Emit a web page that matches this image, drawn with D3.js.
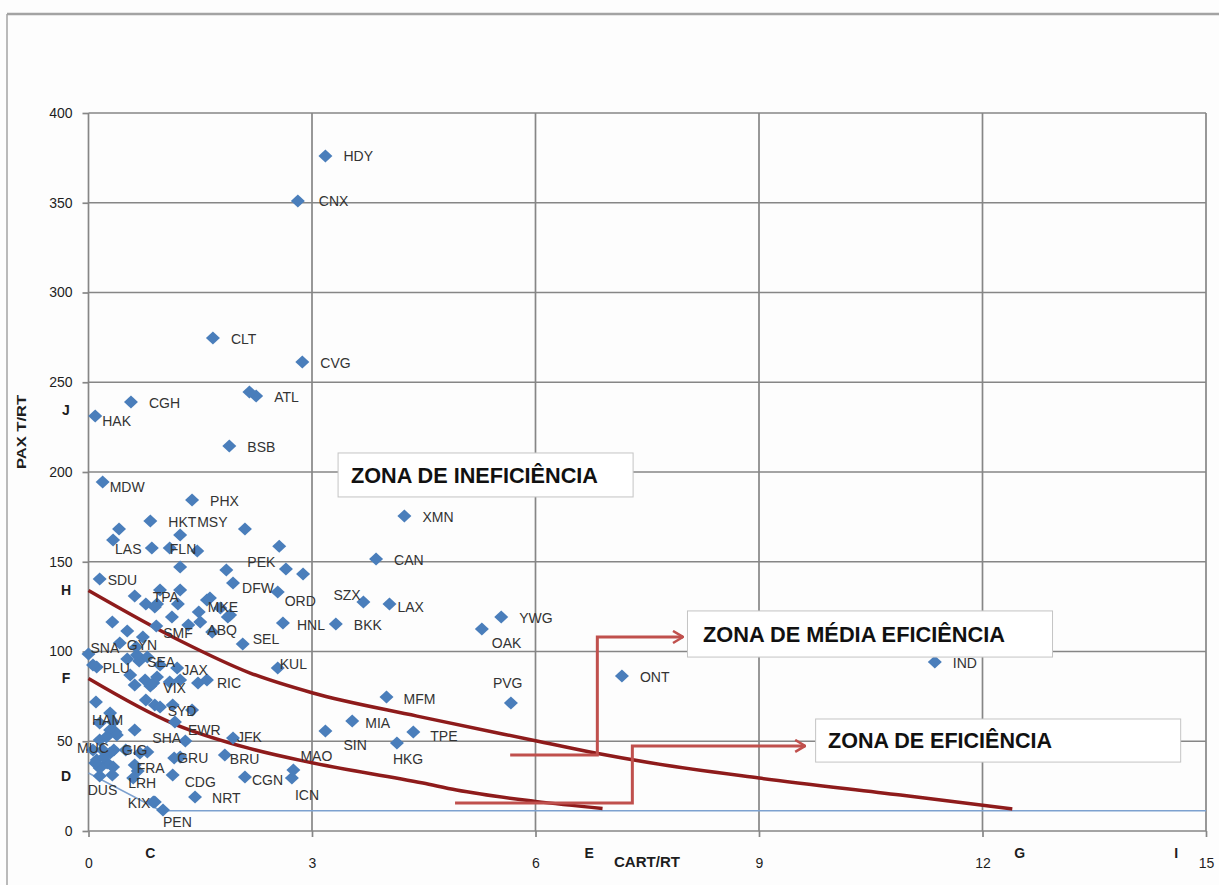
<!DOCTYPE html>
<html lang="pt">
<head>
<meta charset="utf-8">
<title>PAX T/RT x CART/RT</title>
<style>
  body { margin: 0; background: #ffffff; }
  svg { display: block; background: #fdfdfd; font-family: "Liberation Sans", Arial, sans-serif; }
  .grid line { stroke: #868686; stroke-width: 1.7; }
  .axis path { display: none; }
  .axis line { stroke: #868686; stroke-width: 1.7; }
  .axis text { font-size: 14px; fill: #1e1e1e; }
  .mark { font-size: 14px; fill: #1e1e1e; font-weight: bold; }
  .lbl { font-size: 14px; fill: #333; }
  .zone-box { fill: #ffffff; stroke: #c4c4c4; stroke-width: 1; }
  .zone-text { font-family: "Liberation Sans Narrow", "Liberation Sans", Arial, sans-serif; font-weight: bold; font-size: 22px; fill: #111; }
</style>
</head>
<body>
<script src="https://cdnjs.cloudflare.com/ajax/libs/d3/7.8.5/d3.min.js"></script>
<script>
// airports ("" = sem rótulo), CART/RT and PAX T/RT
var airports = ["HDY","CNX","CLT","CVG","ATL","","BSB","CGH","HAK","MDW",
  "PHX","HKT","MSY","LAS","FLN","SDU","PEK","DFW","ORD","TPA",
  "MKE","ABQ","SMF","SEL","HNL","BKK","SZX","LAX","CAN","XMN",
  "OAK","YWG","KUL","SNA","GYN","PLU","SEA","JAX","VIX","RIC",
  "SYD","HAM","SHA","EWR","JFK","BRU","GRU","GIG","MUC","FRA",
  "LRH","CDG","NRT","CGN","ICN","MAO","SIN","MIA","MFM","TPE",
  "HKG","PVG","ONT","IND","DUS","KIX","PEN",
  "","","","","","","","","","","","","","","","","","","","","","","","","",
  "","","","","","","","","","","","","","","","","","","","",
  "","","","","","","","","","","","","","","","","","","","","",""];
var cartRt = [3.18,2.81,1.67,2.87,2.25,2.16,1.89,0.57,0.09,0.19,
  1.39,0.83,1.23,0.33,0.85,0.15,1.85,1.94,2.54,0.62,
  1.48,1.34,0.91,2.07,2.61,3.32,3.69,4.04,3.86,4.24,
  5.28,5.54,2.54,0.00,0.42,0.11,0.68,1.19,0.83,1.59,
  1.13,0.10,1.30,1.16,1.94,1.83,1.23,0.34,0.06,0.66,
  0.60,1.13,1.43,2.10,2.73,2.75,3.18,3.54,4.00,4.36,
  4.14,5.67,7.16,11.36,0.15,0.89,1.00,
  0.41,1.09,1.46,2.10,2.56,1.23,2.65,2.88,0.77,0.96,1.23,0.92,1.20,0.89,1.77,1.87,1.63,1.90,1.50,1.12,0.32,0.52,0.73,1.66,1.59,
  0.06,0.52,0.65,0.79,0.96,0.56,0.62,0.76,0.87,0.92,1.09,1.23,0.77,0.89,1.39,0.29,0.33,0.36,0.62,0.15,
  0.29,0.38,0.15,0.19,0.29,0.11,0.25,0.33,0.15,0.32,0.21,0.09,0.79,0.69,0.62,0.87,1.15,0.24,0.50,1.47,0.96,0.64];
var paxRt = [376.0,351.0,274.7,261.3,242.3,244.6,214.5,239.0,231.2,194.4,
  184.4,172.7,164.9,162.1,157.7,140.4,145.4,138.2,133.1,130.9,
  122.0,114.8,114.2,104.2,115.9,115.3,127.6,126.5,151.5,175.5,
  112.5,119.2,90.8,98.6,104.7,91.4,94.7,90.8,80.8,84.1,
  70.2,71.9,50.1,60.7,51.8,42.3,41.2,45.1,45.1,33.4,
  29.5,31.2,18.9,30.1,29.5,34.0,55.7,61.3,74.7,55.2,
  49.0,71.3,86.4,94.2,30.6,16.2,11.7,
  168.2,157.7,156.0,168.2,158.7,147.1,146.0,143.2,126.5,134.3,134.3,126.5,126.5,124.8,124.2,119.2,129.8,120.3,116.4,119.2,116.4,111.4,108.1,110.9,128.7,
  92.5,95.8,98.1,96.9,92.5,86.9,81.3,84.1,82.5,85.8,83.0,84.1,73.0,70.2,67.4,65.7,60.7,55.2,56.3,60.2,
  56.3,53.5,50.7,45.1,43.5,39.6,37.9,35.7,35.1,31.2,41.2,37.9,44.0,43.5,36.8,16.2,40.7,52.4,45.1,82.5,69.1,102.5];

var xTicks = [0, 3, 6, 9, 12, 15];
var yTicks = [0, 50, 100, 150, 200, 250, 300, 350, 400];
var xMarks = ["C", "E", "G", "I"];
var xMarkAt = [0.83, 6.72, 12.5, 14.6];
var yMarks = ["J", "H", "F", "D"];
var yMarkAt = [234.5, 134.3, 85.2, 30.6];

// fronteiras desenhadas à mão
var upperX = [0, 1.23, 2.17, 3, 4.41, 6, 6.82, 7.54, 9, 10.9, 12.4];
var upperY = [134, 106, 88, 77, 64, 50.3, 43.3, 38, 29.5, 20, 12.3];
var lowerX = [0, 1.13, 2.16, 3, 4.49, 4.94, 6, 6.9];
var lowerY = [85, 60, 46, 38, 26.7, 22.8, 16.5, 12.5];
var baseX = [0, 0.97, 15];
var baseY = [32.3, 11.3, 11.3];

var zones = ["ZONA DE INEFICIÊNCIA", "ZONA DE MÉDIA EFICIÊNCIA", "ZONA DE EFICIÊNCIA"];

// layout
var W = 1219, H = 885;
var margin = {top: 113, right: 13, bottom: 54, left: 88.5};

var svg = d3.select("body").append("svg")
  .attr("width", W)
  .attr("height", H);

// moldura do gráfico
svg.append("line").attr("x1", 7).attr("x2", W).attr("y1", 14).attr("y2", 14)
  .attr("stroke", "#a3a3a3").attr("stroke-width", 2.5);
svg.append("line").attr("x1", 7).attr("x2", 7).attr("y1", 14).attr("y2", H)
  .attr("stroke", "#a3a3a3").attr("stroke-width", 1.5);

var x = d3.scaleLinear().domain([0, 15]).range([margin.left, W - margin.right]);
var y = d3.scaleLinear().domain([0, 400]).range([H - margin.bottom, margin.top]);

// grade
svg.append("g").attr("class", "grid")
  .selectAll("line").data(yTicks).enter().append("line")
  .attr("x1", x(0)).attr("x2", x(15))
  .attr("y1", function(d) { return y(d); })
  .attr("y2", function(d) { return y(d); });
svg.append("g").attr("class", "grid")
  .selectAll("line").data(xTicks).enter().append("line")
  .attr("y1", y(0)).attr("y2", y(400))
  .attr("x1", function(d) { return x(d); })
  .attr("x2", function(d) { return x(d); });

// eixos
svg.append("g").attr("class", "axis")
  .attr("transform", "translate(" + x(0) + ",0)")
  .call(d3.axisLeft(y).tickValues(yTicks).tickSize(6).tickPadding(10));
svg.append("g").attr("class", "axis")
  .attr("transform", "translate(0," + y(0) + ")")
  .call(d3.axisBottom(x).tickValues(xTicks).tickSize(6).tickPadding(21));

svg.selectAll(".ymark").data(yMarks).enter().append("text")
  .attr("class", "mark")
  .attr("x", 66)
  .attr("y", function(d, i) { return y(yMarkAt[i]); })
  .attr("dy", "0.35em")
  .attr("text-anchor", "middle")
  .text(function(d) { return d; });
svg.selectAll(".xmark").data(xMarks).enter().append("text")
  .attr("class", "mark")
  .attr("x", function(d, i) { return x(xMarkAt[i]); })
  .attr("y", y(0) + 27)
  .attr("text-anchor", "middle")
  .text(function(d) { return d; });

svg.append("text").attr("class", "mark")
  .attr("x", 647).attr("y", 867)
  .attr("text-anchor", "middle")
  .attr("textLength", 66).attr("lengthAdjust", "spacingAndGlyphs")
  .text("CART/RT");
svg.append("text").attr("class", "mark")
  .attr("transform", "translate(26,432) rotate(-90)")
  .attr("text-anchor", "middle")
  .style("font-size", "12px")
  .attr("textLength", 74).attr("lengthAdjust", "spacingAndGlyphs")
  .text("PAX T/RT");

// linha base azul
var line = d3.line().x(function(d) { return x(d[0]); }).y(function(d) { return y(d[1]); });
svg.append("path")
  .attr("d", line(d3.zip(baseX, baseY)))
  .attr("fill", "none").attr("stroke", "#7da1cf").attr("stroke-width", 1.5);

// curvas de fronteira
var curve = d3.line().curve(d3.curveMonotoneX)
  .x(function(d) { return x(d[0]); }).y(function(d) { return y(d[1]); });
[[upperX, upperY], [lowerX, lowerY]].forEach(function(c) {
  svg.append("path")
    .attr("d", curve(d3.zip(c[0], c[1])))
    .attr("fill", "none").attr("stroke", "#8e1b1b").attr("stroke-width", 3.5);
});

// pontos
var pts = airports.map(function(a, i) { return {code: a, cx: x(cartRt[i]), cy: y(paxRt[i])}; });
svg.append("g").selectAll("path").data(pts).enter().append("path")
  .attr("d", "M0,-6.5L7,0L0,6.5L-7,0Z")
  .attr("transform", function(d) { return "translate(" + d.cx + "," + d.cy + ")"; })
  .attr("fill", "#4a7ebb");

// rótulos (deslocamento manual como no original)
var nudge = {HDY:[18,0], CNX:[21,0], HAK:[7,5], MDW:[7,5], LAS:[2,9], MSY:[17,-13], PEK:[21,-8],
  MKE:[9,-5], ABQ:[19,5], SMF:[7,7], SEL:[10,-5], SDU:[8,1], DFW:[9,5], ORD:[7,9], HNL:[14,2],
  SZX:[-30,-7], LAX:[8,3], OAK:[10,14], KUL:[2,-4], SNA:[2,-6], GYN:[7,2], PLU:[6,1], SEA:[8,1],
  JAX:[5,2], VIX:[13,2], RIC:[10,3], SYD:[-5,6], HAM:[-4,18], SHA:[-33,-3], EWR:[13,8], JFK:[4,-1],
  BRU:[5,4], GRU:[-3,1], GIG:[8,0], MUC:[-16,-2], FRA:[-1,-3], LRH:[-5,5], CDG:[12,7], NRT:[17,1],
  CGN:[7,3], ICN:[3,17], MAO:[7,-14], SIN:[18,14], MIA:[13,2], MFM:[17,2], TPE:[17,4], HKG:[-4,16],
  PVG:[-18,-20], DUS:[-12,14], KIX:[-27,1], PEN:[0,12]};
svg.append("g").selectAll("text")
  .data(pts.filter(function(d) { return d.code !== ""; }))
  .enter().append("text")
  .attr("class", "lbl")
  .attr("x", function(d) { return d.cx + (nudge[d.code] || [18, 1])[0]; })
  .attr("y", function(d) { return d.cy + (nudge[d.code] || [18, 1])[1]; })
  .attr("dy", "0.36em")
  .text(function(d) { return d.code; });

// setas e caixas das zonas
svg.append("defs").append("marker")
  .attr("id", "seta").attr("viewBox", "0 0 12 14")
  .attr("refX", 11).attr("refY", 7)
  .attr("markerWidth", 12).attr("markerHeight", 14)
  .attr("markerUnits", "userSpaceOnUse").attr("orient", "auto")
  .append("path").attr("d", "M1,1L11,7L1,13")
  .attr("fill", "none").attr("stroke", "#c0504d").attr("stroke-width", 2.5);

var arrows = [
  [[5.66, 42.3], [6.83, 42.3], [6.83, 108.1], [7.98, 108.1]],
  [[4.92, 15.6], [7.30, 15.6], [7.30, 47.4], [9.62, 47.4]]
];
arrows.forEach(function(a) {
  svg.append("path").attr("d", line(a))
    .attr("fill", "none").attr("stroke", "#c0504d").attr("stroke-width", 3)
    .attr("marker-end", "url(#seta)");
});

var boxes = [
  {x0: 3.35, x1: 7.31, y0: 210.6, y1: 186.1, tx: 351, len: 247},
  {x0: 8.04, x1: 12.94, y0: 122.6, y1: 96.9, tx: 703, len: 302},
  {x0: 9.76, x1: 14.66, y0: 62.4, y1: 38.4, tx: 828, len: 224}
];
boxes.forEach(function(b, i) {
  svg.append("rect").attr("class", "zone-box")
    .attr("x", x(b.x0)).attr("y", y(b.y0))
    .attr("width", x(b.x1) - x(b.x0)).attr("height", y(b.y1) - y(b.y0));
  svg.append("text").attr("class", "zone-text")
    .attr("x", b.tx).attr("y", (y(b.y0) + y(b.y1)) / 2)
    .attr("dy", "0.36em")
    .attr("textLength", b.len).attr("lengthAdjust", "spacingAndGlyphs")
    .text(zones[i]);
});
</script>
</body>
</html>
